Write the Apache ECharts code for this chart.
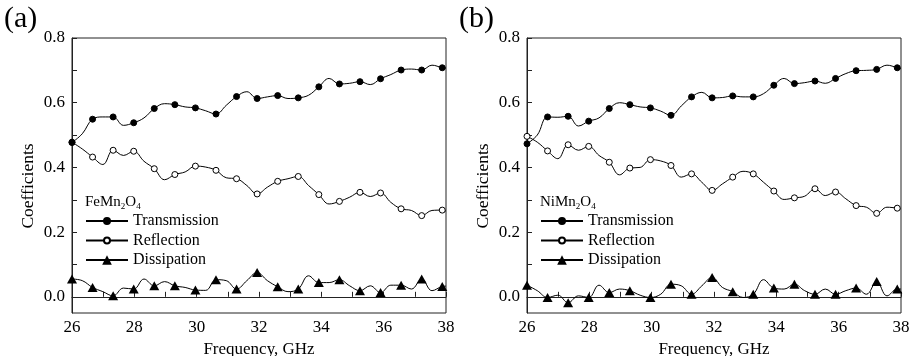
<!DOCTYPE html>
<html><head><meta charset="utf-8">
<script src="https://cdn.jsdelivr.net/npm/echarts@6/dist/echarts.min.js"></script>
<style>html,body{margin:0;padding:0;background:#fff}#c{width:912px;height:356px}</style>
</head><body><div id="c"></div>
<script>
// Frequency (GHz) of each line point; markers sit on every other point up to 37.88
const freq = [26, 26.33, 26.66, 26.99, 27.32, 27.65, 27.98, 28.31, 28.64, 28.97, 29.30, 29.63, 29.96, 30.29, 30.62, 30.95, 31.28, 31.61, 31.94, 32.27, 32.60, 32.93, 33.26, 33.59, 33.92, 34.25, 34.58, 34.91, 35.24, 35.57, 35.90, 36.23, 36.56, 36.89, 37.22, 37.55, 37.88, 38.00];
// (a) FeMn2O4
const feTransmission = [0.477, 0.504, 0.549, 0.556, 0.556, 0.530, 0.538, 0.553, 0.582, 0.597, 0.594, 0.587, 0.584, 0.575, 0.565, 0.592, 0.619, 0.634, 0.613, 0.618, 0.622, 0.613, 0.615, 0.623, 0.649, 0.675, 0.658, 0.660, 0.665, 0.656, 0.674, 0.687, 0.701, 0.704, 0.701, 0.716, 0.708, 0.707];
const feReflection = [0.478, 0.457, 0.432, 0.409, 0.453, 0.437, 0.450, 0.419, 0.396, 0.362, 0.378, 0.386, 0.404, 0.401, 0.391, 0.368, 0.365, 0.344, 0.318, 0.339, 0.357, 0.365, 0.372, 0.344, 0.316, 0.287, 0.295, 0.308, 0.323, 0.310, 0.321, 0.292, 0.272, 0.267, 0.251, 0.267, 0.268, 0.265];
const feDissipation = [0.055, 0.050, 0.029, 0.016, 0.003, 0.027, 0.024, 0.055, 0.034, 0.047, 0.034, 0.029, 0.021, 0.020, 0.053, 0.050, 0.024, 0.050, 0.075, 0.050, 0.031, 0.016, 0.024, 0.065, 0.044, 0.044, 0.053, 0.034, 0.019, 0.034, 0.013, 0.036, 0.036, 0.024, 0.055, 0.019, 0.032, 0.033];
// (b) NiMn2O4
const niTransmission = [0.473, 0.500, 0.556, 0.555, 0.558, 0.528, 0.543, 0.553, 0.582, 0.600, 0.594, 0.587, 0.584, 0.574, 0.561, 0.590, 0.618, 0.632, 0.615, 0.616, 0.621, 0.618, 0.618, 0.628, 0.654, 0.675, 0.659, 0.662, 0.667, 0.660, 0.675, 0.690, 0.699, 0.700, 0.703, 0.716, 0.708, 0.705];
const niReflection = [0.496, 0.478, 0.451, 0.427, 0.470, 0.453, 0.465, 0.437, 0.416, 0.377, 0.398, 0.400, 0.424, 0.420, 0.406, 0.370, 0.380, 0.354, 0.329, 0.349, 0.370, 0.388, 0.380, 0.354, 0.327, 0.301, 0.306, 0.311, 0.334, 0.313, 0.324, 0.303, 0.282, 0.277, 0.258, 0.277, 0.274, 0.272];
const niDissipation = [0.036, 0.019, -0.002, 0.005, -0.018, 0.003, -0.002, 0.036, 0.013, 0.024, 0.019, 0.005, -0.002, 0.008, 0.039, 0.034, 0.008, 0.034, 0.060, 0.029, 0.016, -0.002, 0.008, 0.053, 0.027, 0.024, 0.039, 0.019, 0.008, 0.024, 0.008, 0.019, 0.027, 0.008, 0.047, 0.003, 0.024, 0.024];
// Axis ticks
const xTickValues = [26, 27, 28, 29, 30, 31, 32, 33, 34, 35, 36, 37, 38];
const xLabelValues = [26, 28, 30, 32, 34, 36, 38];
const yTickValues = [0, 0.1, 0.2, 0.3, 0.4, 0.5, 0.6, 0.7, 0.8];
const yLabelValues = [0, 0.2, 0.4, 0.6, 0.8];
const seriesNames = ['Transmission', 'Reflection', 'Dissipation'];
const panelLabels = ['(a)', '(b)'];
const materialRich = [['FeMn', '2', 'O', '4'], ['NiMn', '2', 'O', '4']];
const xName = 'Frequency, GHz';
const yName = 'Coefficients';

const FONT = 'Liberation Serif';
const chart = echarts.init(document.getElementById('c'));
const gridLefts = [72, 527];
const GRID_TOP = 38, GRID_H = 275, GRID_W = 374;

function toData(vals) {
  return freq.map((f, i) => (i % 2 === 0 && i < 37) ? [f, vals[i]] : { value: [f, vals[i]], symbol: 'none' });
}
const styles = [
  { symbol: 'circle', symbolSize: 6, itemStyle: { color: '#000', borderColor: '#000', borderWidth: 1 }, legendH: 7.5 },
  { symbol: 'circle', symbolSize: 6, itemStyle: { color: '#fff', borderColor: '#000', borderWidth: 1 }, legendH: 7.5 },
  { symbol: 'triangle', symbolSize: [10, 9], itemStyle: { color: '#000', borderColor: '#000', borderWidth: 0 }, legendH: 12 }
];
const panelData = [[feTransmission, feReflection, feDissipation], [niTransmission, niReflection, niDissipation]];

const grid = [], xAxis = [], yAxis = [], series = [], legend = [], graphic = [];
panelData.forEach((arrs, p) => {
  grid.push({ left: gridLefts[p], top: GRID_TOP, width: GRID_W, height: GRID_H, outerBoundsMode: 'none', containLabel: false, show: true, borderColor: '#222', borderWidth: 1, backgroundColor: 'transparent' });
  xAxis.push({
    type: 'value', gridIndex: p, min: 26, max: 38,
    name: xName, nameLocation: 'middle', nameGap: 24,
    nameTextStyle: { fontFamily: FONT, fontSize: 17, color: '#000' },
    axisLine: { show: true, lineStyle: { color: '#222', width: 1 } },
    axisTick: { show: true, inside: true, length: 5, customValues: xTickValues, lineStyle: { color: '#222' } },
    axisLabel: { customValues: xLabelValues, fontFamily: FONT, fontSize: 17, color: '#000', margin: 6 },
    splitLine: { show: false }
  });
  yAxis.push({
    type: 'value', gridIndex: p, min: -0.05, max: 0.8,
    axisLine: { show: true, lineStyle: { color: '#222', width: 1 } },
    axisTick: { show: true, inside: true, length: 5, customValues: yTickValues, lineStyle: { color: '#222' } },
    axisLabel: { customValues: yLabelValues, formatter: v => v.toFixed(1), fontFamily: FONT, fontSize: 17, color: '#000', margin: 7 },
    splitLine: { show: false }
  });
  arrs.forEach((vals, k) => {
    const st = styles[k];
    series.push({
      type: 'line', name: seriesNames[k], xAxisIndex: p, yAxisIndex: p,
      data: toData(vals), smooth: 0.4, showSymbol: true, showAllSymbol: true,
      symbol: st.symbol, symbolSize: st.symbolSize, itemStyle: st.itemStyle,
      lineStyle: { color: '#000', width: 1 }, z: 3 - k, animation: false
    });
    legend.push({
      data: [seriesNames[k]], left: gridLefts[p] + 13, top: 213 + k * 19.5, orient: 'vertical',
      padding: 0, itemWidth: 42, itemHeight: st.legendH, selectedMode: false,
      textStyle: { fontFamily: FONT, fontSize: 16, color: '#000', lineHeight: 16 }
    });
  });
  graphic.push({
    type: 'text', left: gridLefts[p] + 13, top: 195,
    style: {
      text: '{a|' + materialRich[p][0] + '}{s|' + materialRich[p][1] + '}{a|' + materialRich[p][2] + '}{s|' + materialRich[p][3] + '}',
      rich: { a: { fontFamily: FONT, fontSize: 15, fill: '#000' }, s: { fontFamily: FONT, fontSize: 9, fill: '#000', padding: [9, 0, 0, 0] } }
    }
  });
  graphic.push({
    type: 'text', x: gridLefts[p] - 44, y: 186, rotation: Math.PI / 2,
    style: { text: yName, fontFamily: FONT, fontSize: 17.5, fill: '#000', align: 'center', verticalAlign: 'middle' }
  });
  graphic.push({
    type: 'text', left: [4, 459][p], top: 4,
    style: { text: panelLabels[p], fontFamily: FONT, fontSize: 30, fill: '#000' }
  });
});

chart.setOption({ animation: false, backgroundColor: '#fff', grid, xAxis, yAxis, series, legend, graphic });
</script></body></html>
